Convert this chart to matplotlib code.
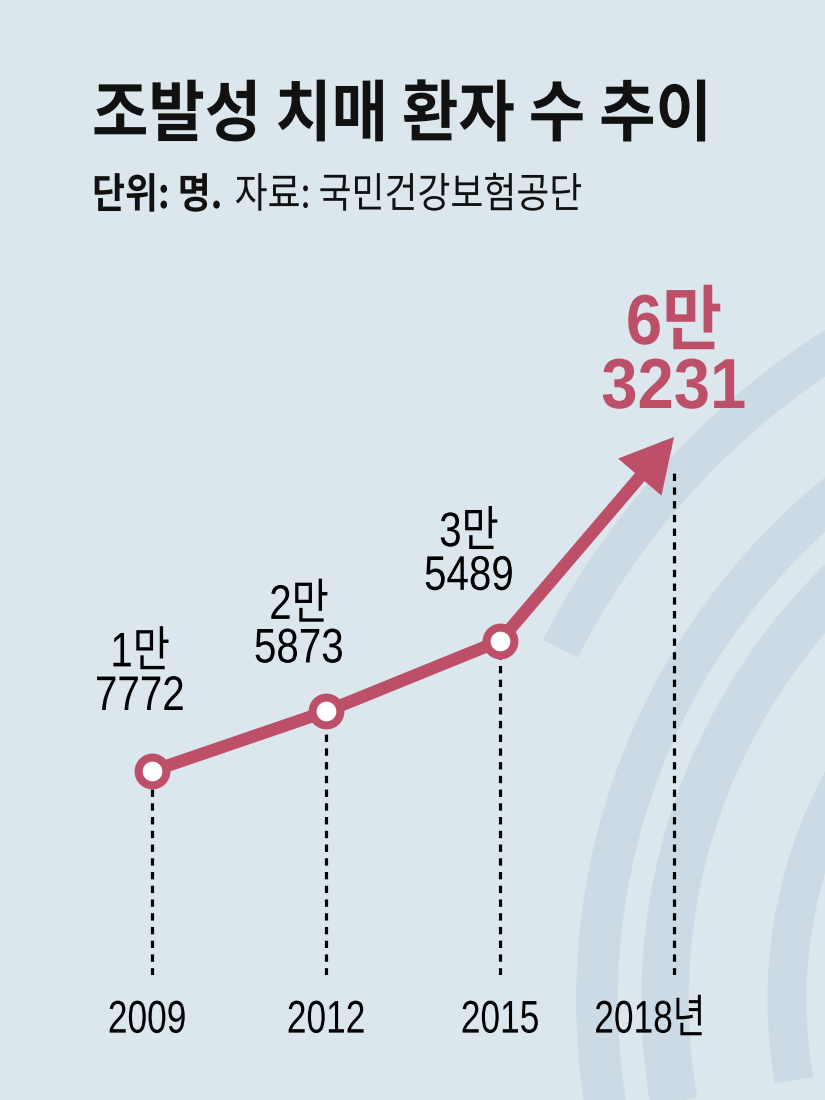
import numpy as np
import matplotlib.pyplot as plt
from matplotlib.patches import Arc
from matplotlib.patheffects import AbstractPathEffect
from matplotlib.transforms import Affine2D, ScaledTranslation

years = [2009, 2012, 2015, 2018]
patients = [17772, 25873, 35489, 63231]
value_labels = ['1만\n7772', '2만\n5873', '3만\n5489', '6만\n3231']
year_labels = ['2009', '2012', '2015', '2018년']

title = '조발성 치매 환자 수 추이'
unit_text = '단위: 명.'
source_text = '자료: 국민건강보험공단'

W, H = 825, 1100
bg_color = '#dbe6ed'
band_color = '#cbdae4'
red = '#bd4f68'

num_font = ['Liberation Sans', 'Noto Sans CJK KR']
kr_font = ['Noto Sans CJK KR', 'DejaVu Sans']


class Squeeze(AbstractPathEffect):
    # narrow the glyphs horizontally (the original uses a condensed face)
    def __init__(self, sx, anchor='center'):
        super().__init__()
        self.sx = sx
        self.anchor = anchor

    def draw_path(self, renderer, gc, tpath, affine, rgbFace=None):
        ext = tpath.get_extents()
        cx = 0 if self.anchor == 'left' else (ext.x0 + ext.x1) / 2
        t = Affine2D().translate(-cx, 0).scale(self.sx, 1).translate(cx, 0) + affine
        renderer.draw_path(gc, tpath, t, rgbFace)


fig = plt.figure(figsize=(W / 100, H / 100), dpi=100, facecolor=bg_color)

# background swirl bands
bg = fig.add_axes([0, 0, 1, 1])
bg.set_xlim(0, W)
bg.set_ylim(0, H)
bg.axis('off')
for r, t1, t2, w in [(774, 112, 153, 28), (653, 112, 190, 30),
                     (585, 112, 190, 34), (463, 112, 190, 28)]:
    bg.add_patch(Arc((1250, 100), 2 * r, 2 * r, theta1=t1, theta2=t2,
                     lw=w, color=band_color, capstyle='butt'))

# main axes: x in years, y in patients (pixel anchors -> limits)
x0_px, x1_px = 152, 674
y0_px, y1_px = 771, 437
bottom_px = 975
px_per_year = (x1_px - x0_px) / (years[-1] - years[0])
px_per_val = (y0_px - y1_px) / (patients[-1] - patients[0])

ax = fig.add_axes([0, 1 - bottom_px / H, 1, bottom_px / H])
ax.set_facecolor('none')
ax.set_xlim(years[0] - x0_px / px_per_year, years[0] + (W - x0_px) / px_per_year)
ymin = patients[0] - (bottom_px - y0_px) / px_per_val
ax.set_ylim(ymin, patients[0] + y0_px / px_per_val)
for s in ax.spines.values():
    s.set_visible(False)
ax.set_yticks([])

# dotted guide lines (the last one starts just under the arrow head)
tops = list(patients)
tops[-1] = patients[-1] - 36 / px_per_val
ax.vlines(years, ymin, tops, colors='black', lw=2.3,
          linestyles=(0, (2.3, 2.0)), zorder=1)

# line + arrow
ax.plot(years[:3], patients[:3], color=red, lw=9, solid_capstyle='round', zorder=3)
ax.annotate('', xy=(years[3], patients[3]), xytext=(years[2], patients[2]),
            arrowprops=dict(arrowstyle='-|>,head_length=2.4,head_width=1.3',
                            mutation_scale=10, lw=9, color=red,
                            shrinkA=0, shrinkB=0, joinstyle='miter'),
            zorder=3)
ax.plot(years[:3], patients[:3], 'o', ms=20, mfc='white', mec=red, mew=5.8, zorder=4)

# value labels
offsets = [(-12, 61), (-27, 49), (-31, 51)]
for i in range(3):
    dx, dy = offsets[i]
    ax.annotate(value_labels[i], xy=(years[i], patients[i]),
                xytext=(dx * 0.72, dy * 0.72), textcoords='offset points',
                ha='center', va='baseline', fontsize=35, family=num_font,
                linespacing=0.96, color='black',
                path_effects=[Squeeze(0.83)])
ax.annotate(value_labels[3], xy=(years[3], patients[3]),
            xytext=(0, 29 * 0.72), textcoords='offset points',
            ha='center', va='baseline', fontsize=51, family=num_font,
            fontweight='bold', linespacing=0.96, color=red,
            path_effects=[Squeeze(0.92)])

# year tick labels
ax.set_xticks(years, year_labels)
ax.tick_params(axis='x', length=0, pad=17, labelsize=33)
for lab in ax.get_xticklabels():
    lab.set_family(num_font)
    lab.set_path_effects([Squeeze(0.77)])
labs = ax.get_xticklabels()
labs[0].set_transform(labs[0].get_transform()
                      + ScaledTranslation(-5 / 100, 0, fig.dpi_scale_trans))
labs[-1].set_transform(labs[-1].get_transform()
                       + ScaledTranslation(-24 / 100, 0, fig.dpi_scale_trans))

# title and subtitle
fig.text(92 / W, 1 - 116 / H, title, fontsize=48, fontweight='heavy',
         family=kr_font, va='center', ha='left', color='#111111',
         path_effects=[Squeeze(0.92, 'left')])
sub_sx = 0.86
t1 = fig.text(92 / W, 1 - 196 / H, unit_text, fontsize=30, fontweight='heavy',
              family=kr_font, va='center', ha='left', color='#111111',
              path_effects=[Squeeze(sub_sx, 'left')])
renderer = fig.canvas.get_renderer()
bb = t1.get_window_extent(renderer)
fig.text((bb.x0 + bb.width * sub_sx + 12) / W, 1 - 196 / H, source_text,
         fontsize=30, family=kr_font, va='center', ha='left', color='#111111',
         path_effects=[Squeeze(sub_sx, 'left')])

fig.savefig('out.png', dpi=100, facecolor=bg_color)
